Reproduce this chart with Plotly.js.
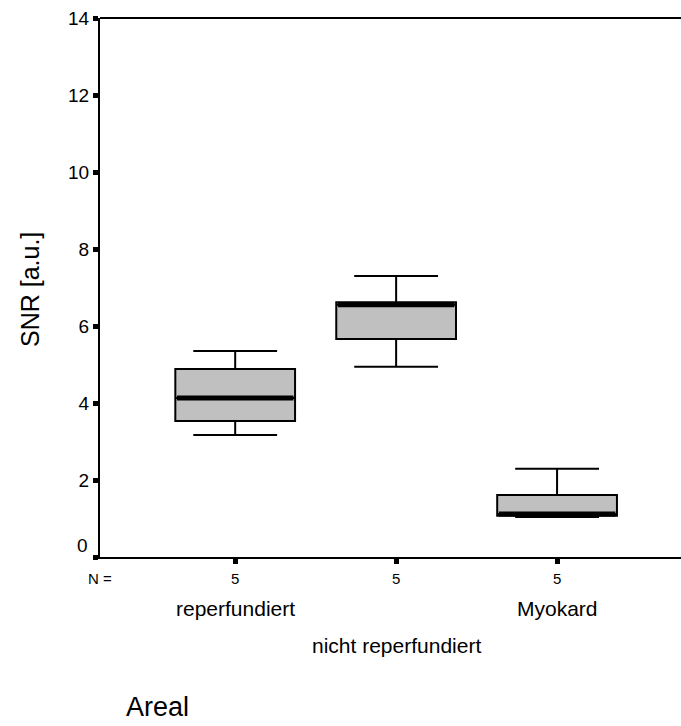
<!DOCTYPE html>
<html>
<head>
<meta charset="utf-8">
<script src="https://cdn.plot.ly/plotly-3.0.1.min.js"></script>
<style>html,body{margin:0;padding:0;background:#fff;}#chart{width:681px;height:726px;}</style>
</head>
<body>
<div id="chart"></div>
<script>
const categories = ["reperfundiert", "nicht reperfundiert", "Myokard"];
const nValues = [5, 5, 5];
const lowerWhisker = [3.17, 4.94, 1.04];
const q1Values = [3.53, 5.66, 1.07];
const medianValues = [4.13, 6.55, 1.12];
const q3Values = [4.88, 6.62, 1.61];
const upperWhisker = [5.35, 7.30, 2.29];
const yTicks = [0, 2, 4, 6, 8, 10, 12, 14];

const pos = categories.map((c, i) => i + 1);
const boxHalf = 0.372;

const boxTrace = {
  type: 'box',
  x: pos,
  q1: q1Values,
  median: medianValues,
  q3: q3Values,
  lowerfence: lowerWhisker,
  upperfence: upperWhisker,
  width: boxHalf * 2,
  whiskerwidth: 0.7,
  fillcolor: '#c0c0c0',
  line: {color: '#000', width: 2},
  boxpoints: false,
  hoverinfo: 'skip',
  showlegend: false
};

const medX = [], medY = [];
pos.forEach((p, i) => {
  medX.push(p - boxHalf + 0.01, p + boxHalf - 0.01, null);
  medY.push(medianValues[i], medianValues[i], null);
});
const medianTrace = {
  type: 'scatter', mode: 'lines', x: medX, y: medY,
  line: {color: '#000', width: 5}, hoverinfo: 'skip', showlegend: false
};

const font = 'Liberation Sans, Arial, sans-serif';
const plotH = 539, plotW = 581;
const annotations = [];
pos.forEach((p, i) => {
  annotations.push({x: p, y: 0, xref: 'x', yref: 'y', yanchor: 'middle', yshift: -21,
    text: String(nValues[i]), showarrow: false, font: {family: font, size: 15, color: '#000'}});
  annotations.push({x: p, y: 0, xref: 'x', yref: 'y', yanchor: 'middle', yshift: i === 1 ? -88 : -51,
    text: categories[i], showarrow: false, font: {family: font, size: 21, color: '#000'}});
});
annotations.push({x: 0, y: 0, xref: 'paper', yref: 'y', xanchor: 'left', yanchor: 'middle', xshift: -14, yshift: -21,
  text: 'N =', showarrow: false, font: {family: font, size: 15, color: '#000'}});
annotations.push({x: 0, y: 0, xref: 'paper', yref: 'y', xanchor: 'right', yanchor: 'middle', xshift: -10, yshift: 12,
  text: String(yTicks[0]), showarrow: false, font: {family: font, size: 19, color: '#000'}});
annotations.push({x: (124 - 100) / plotW, y: -(707 - 557) / plotH, xref: 'paper', yref: 'paper',
  xanchor: 'left', yanchor: 'middle', showarrow: false, text: 'Areal',
  font: {family: font, size: 27, color: '#000'}});
annotations.push({x: (30 - 100) / plotW, y: (557 - 290) / plotH, xref: 'paper', yref: 'paper',
  xanchor: 'center', yanchor: 'middle', textangle: -90, showarrow: false, text: 'SNR [a.u.]',
  font: {family: font, size: 25, color: '#000'}});

const layout = {
  width: 681, height: 726,
  margin: {l: 100, r: 0, t: 18, b: 169},
  paper_bgcolor: '#fff', plot_bgcolor: '#fff',
  font: {family: font, color: '#000'},
  showlegend: false,
  xaxis: {
    range: [0.16, 3.77], tickvals: pos, ticktext: pos.map(() => ''),
    ticks: 'outside', ticklen: 5, tickwidth: 5, tickcolor: '#000',
    showline: true, linecolor: '#000', linewidth: 2,
    showgrid: false, zeroline: false
  },
  yaxis: {
    range: [0, 14], tickvals: yTicks, ticktext: yTicks.map(v => v === 0 ? '' : String(v)),
    ticks: 'outside', ticklen: 5, tickwidth: 5, tickcolor: '#000',
    tickfont: {family: font, size: 19, color: '#000'},
    showline: true, linecolor: '#000', linewidth: 2,
    showgrid: false, zeroline: false
  },
  shapes: [{type: 'line', xref: 'paper', yref: 'paper', x0: 0, x1: 1, y0: 1, y1: 1, line: {color: '#000', width: 2}}],
  annotations: annotations
};

Plotly.newPlot('chart', [boxTrace, medianTrace], layout, {displayModeBar: false, staticPlot: true});
</script>
</body>
</html>
